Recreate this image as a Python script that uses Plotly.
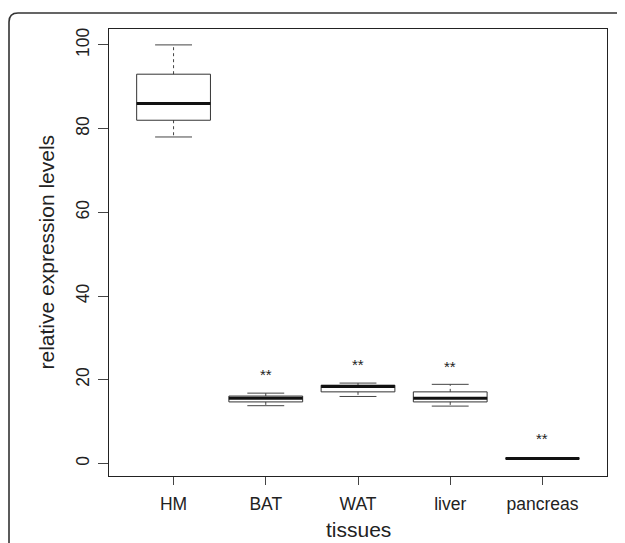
import plotly.graph_objects as go

# ---- data ----
tissues = ["HM", "BAT", "WAT", "liver", "pancreas"]
lower_whisker = [78.0, 13.8, 16.0, 13.7, 1.2]
q1 = [82.0, 14.7, 17.1, 14.7, 1.2]
median = [86.0, 15.6, 18.4, 15.6, 1.2]
q3 = [93.0, 16.1, 18.7, 17.1, 1.2]
upper_whisker = [100.0, 16.8, 19.2, 18.9, 1.2]
significance = ["", "**", "**", "**", "**"]
sig_y = [None, 22.1, 24.5, 24.1, 6.8]
y_ticks = [0, 20, 40, 60, 80, 100]

BOXW = 0.4   # half box width (R boxwex 0.8)
CAPW = 0.2   # half staple width
FONT = "Liberation Sans, Arial, Helvetica, sans-serif"
INK = "#222222"

pos = list(range(1, len(tissues) + 1))

bx, by, mx, my, wx, wy, cx, cy = [], [], [], [], [], [], [], []
for p, lo, a, m, b, hi in zip(pos, lower_whisker, q1, median, q3, upper_whisker):
    bx += [p - BOXW, p + BOXW, p + BOXW, p - BOXW, p - BOXW, None]
    by += [a, a, b, b, a, None]
    mx += [p - BOXW, p + BOXW, None]
    my += [m, m, None]
    wx += [p, p, None, p, p, None]
    wy += [b, hi, None, a, lo, None]
    cx += [p - CAPW, p + CAPW, None, p - CAPW, p + CAPW, None]
    cy += [hi, hi, None, lo, lo, None]

fig = go.Figure()
fig.add_trace(go.Scatter(x=wx, y=wy, mode="lines", line=dict(color="#444", width=1, dash="3px,3px"),
                         hoverinfo="skip", showlegend=False))
fig.add_trace(go.Scatter(x=cx, y=cy, mode="lines", line=dict(color="#444", width=1),
                         hoverinfo="skip", showlegend=False))
fig.add_trace(go.Scatter(x=bx, y=by, mode="lines", line=dict(color="#333", width=1),
                         hoverinfo="skip", showlegend=False))
fig.add_trace(go.Scatter(x=mx, y=my, mode="lines", line=dict(color="#111", width=3),
                         hoverinfo="skip", showlegend=False))

for p, s, yv in zip(pos, significance, sig_y):
    if s:
        fig.add_annotation(x=p, y=yv, text=s, showarrow=False, xref="x", yref="y",
                           xanchor="center", yanchor="middle", yshift=-4,
                           font=dict(family=FONT, size=15, color=INK))

# the page body has an 8px margin, so figure coords = page coords - 8
OFF = 8
W, H = 625 - OFF, 543 - OFF
L, R, T, B = 109 - OFF, 18, 29 - OFF, 67
pw, ph = W - L - R, H - T - B

def px(xp):
    return (xp - OFF - L) / pw

def py(yp):
    return (H - B - (yp - OFF)) / ph

# axis titles (page coordinates)
fig.add_annotation(x=px(358), y=py(529), xref="paper", yref="paper", text="tissues",
                   xanchor="center", yanchor="middle", showarrow=False,
                   font=dict(family=FONT, size=21, color=INK))
fig.add_annotation(x=px(46), y=py(252.5), xref="paper", yref="paper",
                   text="relative expression levels", textangle=-90, showarrow=False,
                   xanchor="center", yanchor="middle",
                   font=dict(family=FONT, size=21, color=INK))

# outer rounded frame (top-left corner visible)
r = 9
x0, y0 = 9, 13
fig.add_shape(type="path", xref="paper", yref="paper",
              path=(f"M {px(x0)} {py(560)} L {px(x0)} {py(y0 + r)} "
                    f"Q {px(x0)} {py(y0)} {px(x0 + r)} {py(y0)} L {px(640)} {py(y0)}"),
              line=dict(color="#333", width=1.6))

axis_common = dict(showgrid=False, zeroline=False, showline=True, linecolor="#222", linewidth=1,
                   mirror=True, ticks="outside", tickcolor="#444", tickwidth=1,
                   tickfont=dict(family=FONT, size=17.5, color=INK))

fig.update_xaxes(range=[0.3, 5.7], tickvals=pos, ticktext=tissues, ticklen=8,
                 ticklabelstandoff=4, **axis_common)
fig.update_yaxes(range=[-3.0, 103.8], tickvals=y_ticks, ticktext=[str(v) for v in y_ticks],
                 tickangle=-90, ticklen=10, ticklabelstandoff=2, **axis_common)

fig.update_layout(width=W, height=H, autosize=False,
                  margin=dict(l=L, r=R, t=T, b=B, pad=0),
                  plot_bgcolor="white", paper_bgcolor="white", showlegend=False)

fig.write_html("out.html")
